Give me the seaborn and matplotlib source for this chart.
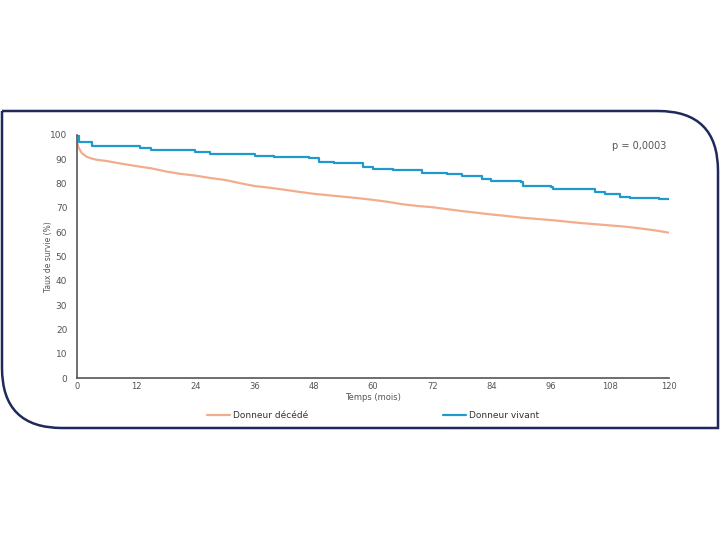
import matplotlib.pyplot as plt
import seaborn as sns
import pandas as pd
import numpy as np
from matplotlib.path import Path
from matplotlib.patches import PathPatch

# Donneur vivant (step curve)
vivant_t = [0, 0.4, 3, 12.8, 15, 24, 27, 36, 40, 47, 49, 52, 58, 60, 64, 70, 75, 78, 82,
            84, 90, 90.5, 96, 96.5, 105, 107, 110, 112, 118, 120]
vivant_s = [100, 97, 95.5, 94.5, 93.8, 93, 92.2, 91.5, 91, 90.5, 89, 88.5, 87, 86, 85.5,
            84.5, 84, 83, 82, 81, 80.7, 79, 78.5, 77.8, 76.5, 75.7, 74.5, 74, 73.7, 73.7]

# Donneur décédé
decede_t = [0, 0.3, 0.6, 1, 2, 3, 4, 6, 9, 12, 15, 18, 21, 24, 27, 30, 33, 36, 39, 42, 45,
            48, 51, 54, 57, 60, 63, 66, 69, 72, 75, 78, 81, 84, 87, 90, 93, 96, 99, 102,
            105, 108, 111, 114, 117, 120]
decede_s = [97, 95, 93.8, 92.5, 91, 90.3, 89.8, 89.3, 88.2, 87.2, 86.3, 85, 84, 83.3, 82.3,
            81.5, 80.2, 79, 78.3, 77.5, 76.6, 75.8, 75.2, 74.6, 74, 73.3, 72.5, 71.5, 70.8,
            70.3, 69.5, 68.7, 68, 67.3, 66.7, 66, 65.5, 65, 64.4, 63.8, 63.3, 62.8, 62.3,
            61.6, 60.8, 59.8]

x_ticks = [0, 12, 24, 36, 48, 60, 72, 84, 96, 108, 120]
y_ticks = [0, 10, 20, 30, 40, 50, 60, 70, 80, 90, 100]

c_decede = "#f2ad8c"
c_vivant = "#1e9bcc"
gray = "#555555"

df_v = pd.DataFrame({"t": vivant_t, "s": vivant_s})
df_d = pd.DataFrame({"t": decede_t, "s": decede_s})

sns.set_style("white")
plt.rcParams['font.family'] = ['DejaVu Sans']

fig = plt.figure(figsize=(7.2, 5.4), dpi=100)

# frame of the slide (rounded corners top-right and bottom-left)
bg = fig.add_axes([0, 0, 1, 1])
bg.set_xlim(0, 720)
bg.set_ylim(540, 0)
bg.axis("off")
r = 60
L, T, R, B = 2, 111, 718, 428
verts = [(L, T), (R - r, T), (R, T), (R, T + r), (R, B), (L + r, B), (L, B), (L, B - r), (L, T)]
codes = [Path.MOVETO, Path.LINETO, Path.CURVE3, Path.CURVE3, Path.LINETO, Path.LINETO,
         Path.CURVE3, Path.CURVE3, Path.LINETO]
bg.add_patch(PathPatch(Path(verts, codes), facecolor="none", edgecolor="#1f2a5a", lw=1.8))

ax = fig.add_axes([77 / 720, 1 - 378 / 540, (669 - 77) / 720, (378 - 135) / 540])
ax.patch.set_alpha(0)
sns.lineplot(data=df_d, x="t", y="s", ax=ax, color=c_decede, lw=1.6, estimator=None,
             label="Donneur décédé")
sns.lineplot(data=df_v, x="t", y="s", ax=ax, color=c_vivant, lw=1.6, estimator=None,
             drawstyle="steps-post", label="Donneur vivant")

ax.set_xlim(0, 120)
ax.set_ylim(0, 100)
ax.set_xticks(x_ticks)
ax.set_yticks(y_ticks)
ax.tick_params(axis="x", direction="in", length=4, colors=gray, labelsize=6, pad=3)
ax.tick_params(axis="y", direction="out", length=4, colors=gray, labelsize=6.5, pad=3)
for s in ["top", "right"]:
    ax.spines[s].set_visible(False)
for s in ["left", "bottom"]:
    ax.spines[s].set_color("#555555")
    ax.spines[s].set_linewidth(1.2)
ax.set_xlabel("Temps (mois)", fontsize=6, color=gray, labelpad=1)
ax.set_ylabel("Taux de survie (%)", fontsize=5.5, color=gray, labelpad=-2)

ax.text(0.995, 0.955, "p = 0,0003", transform=ax.transAxes, ha="right", va="center",
        fontsize=7, color=gray)

ax.legend(loc="center", bbox_to_anchor=(0.5, -0.155), ncol=2, frameon=False,
          fontsize=6.5, handlelength=2.5, handletextpad=0.3, columnspacing=15,
          labelcolor="#333333")

fig.savefig("out.png", dpi=100)
